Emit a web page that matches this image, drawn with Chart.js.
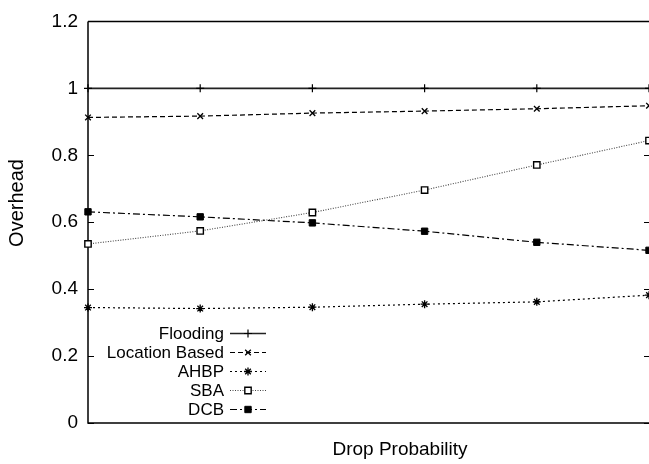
<!DOCTYPE html>
<html>
<head>
<meta charset="utf-8">
<script src="https://cdn.jsdelivr.net/npm/chart.js@4/dist/chart.umd.min.js"></script>
<style>
  html, body { margin: 0; padding: 0; background: #fff; }
  canvas { display: block; }
</style>
</head>
<body>
<canvas id="c" width="649" height="464"></canvas>
<script>
// ---- data ----
const dropProbability = ['p0', 'p1', 'p2', 'p3', 'p4', 'p5'];
const seriesNames = ['Flooding', 'Location Based', 'AHBP', 'SBA', 'DCB'];
const flooding      = [1.000, 1.000, 1.000, 1.000, 1.000, 1.000];
const locationBased = [0.913, 0.917, 0.926, 0.932, 0.939, 0.948];
const ahbp          = [0.345, 0.342, 0.346, 0.355, 0.362, 0.382];
const sba           = [0.535, 0.574, 0.629, 0.696, 0.771, 0.844];
const dcb           = [0.631, 0.616, 0.598, 0.573, 0.540, 0.516];
const yTickLabels   = ['0', '0.2', '0.4', '0.6', '0.8', '1', '1.2'];
const xTitle = 'Drop Probability';
const yTitle = 'Overhead';

const FONT = '"Liberation Sans", Arial, Helvetica, sans-serif';

function ds(label, data, style) {
  return Object.assign({
    label, data,
    fill: false,
    tension: 0,
    clip: false,
    pointBackgroundColor: '#000',
    pointBorderColor: '#000',
  }, style);
}

const datasets = [
  ds(seriesNames[0], flooding, {
    borderColor: '#222', borderWidth: 1.6, borderDash: [],
    pointStyle: 'cross', pointRadius: 4, pointBorderWidth: 1.2
  }),
  ds(seriesNames[1], locationBased, {
    borderColor: '#000', borderWidth: 1.2, borderDash: [5, 3],
    pointStyle: 'crossRot', pointRadius: 4, pointBorderWidth: 1.3
  }),
  ds(seriesNames[2], ahbp, {
    borderColor: '#000', borderWidth: 1.2, borderDash: [2, 3],
    pointStyle: 'star', pointRadius: 4, pointBorderWidth: 1.3
  }),
  ds(seriesNames[3], sba, {
    borderColor: '#444', borderWidth: 1.1, borderDash: [1, 1.5],
    pointStyle: 'rect', pointRadius: 4.5, pointBorderWidth: 1.4,
    pointBackgroundColor: '#fff', pointBorderColor: '#000'
  }),
  ds(seriesNames[4], dcb, {
    borderColor: '#000', borderWidth: 1.2, borderDash: [7, 3, 2, 3],
    pointStyle: 'rect', pointRadius: 4.5, pointBorderWidth: 1
  }),
];

function drawMarker(ctx, d, x, y) {
  ctx.save();
  ctx.setLineDash([]);
  ctx.fillStyle = d.pointBackgroundColor;
  ctx.strokeStyle = d.pointBorderColor;
  ctx.lineWidth = d.pointBorderWidth;
  Chart.helpers.drawPoint(ctx, {
    pointStyle: d.pointStyle, radius: d.pointRadius,
    borderWidth: d.pointBorderWidth, rotation: 0
  }, x, y);
  ctx.restore();
}

const framePlugin = {
  id: 'frame',
  beforeDatasetsDraw(chart) {
    const ctx = chart.ctx, a = chart.chartArea, ys = chart.scales.y;
    ctx.save();
    ctx.strokeStyle = '#000';
    ctx.lineWidth = 1.5;
    ctx.beginPath();
    ctx.moveTo(a.left, a.top);
    ctx.lineTo(a.right + 2, a.top);
    ctx.moveTo(a.left, a.top);
    ctx.lineTo(a.left, a.bottom);
    ctx.lineTo(a.right + 2, a.bottom);
    ctx.stroke();
    ctx.lineWidth = 1.2;
    ctx.beginPath();
    ys.ticks.forEach(t => {
      const py = Math.round(ys.getPixelForValue(t.value)) + 0.5;
      ctx.moveTo(a.left, py); ctx.lineTo(a.left + 6, py);
      ctx.moveTo(a.right - 5, py); ctx.lineTo(a.right + 2, py);
    });
    ctx.stroke();
    ctx.restore();
  },
  afterDraw(chart) {
    const ctx = chart.ctx;
    ctx.save();
    ctx.fillStyle = '#000';
    // axis titles
    ctx.textAlign = 'center';
    ctx.textBaseline = 'middle';
    ctx.font = '19px ' + FONT;
    ctx.fillText(xTitle, 400, 450);
    ctx.font = '20px ' + FONT;
    ctx.translate(17, 203);
    ctx.rotate(-Math.PI / 2);
    ctx.fillText(yTitle, 0, 0);
    ctx.restore();

    // legend
    ctx.save();
    ctx.font = '17px ' + FONT;
    ctx.textAlign = 'right';
    ctx.textBaseline = 'middle';
    chart.data.datasets.forEach((d, i) => {
      const y = 333 + i * 19;
      ctx.fillStyle = '#000';
      ctx.fillText(d.label, 224, y + 1);
      ctx.save();
      ctx.strokeStyle = d.borderColor;
      ctx.lineWidth = d.borderWidth;
      ctx.setLineDash(d.borderDash || []);
      ctx.beginPath();
      ctx.moveTo(230, y + 0.5);
      ctx.lineTo(266, y + 0.5);
      ctx.stroke();
      ctx.restore();
      drawMarker(ctx, d, 248, y + 0.5);
    });
    ctx.restore();
  }
};

new Chart(document.getElementById('c'), {
  type: 'line',
  data: { labels: dropProbability, datasets },
  plugins: [framePlugin],
  options: {
    responsive: false,
    animation: false,
    devicePixelRatio: 1,
    layout: { autoPadding: false, padding: { top: 20, right: 0, left: 0, bottom: 0 } },
    plugins: { legend: { display: false }, tooltip: { enabled: false } },
    scales: {
      x: {
        type: 'category',
        offset: false,
        grid: { display: false, drawTicks: false },
        border: { display: false },
        ticks: { display: false },
        afterFit(s) { s.height = 41; }
      },
      y: {
        min: 0, max: 1.2,
        grid: { display: false, drawTicks: false },
        border: { display: false },
        ticks: {
          stepSize: 0.2,
          padding: 10,
          color: '#000',
          font: { family: FONT, size: 19 },
          callback: (v, i) => yTickLabels[i]
        },
        afterFit(s) { s.width = 88; }
      }
    }
  }
});
</script>
</body>
</html>
